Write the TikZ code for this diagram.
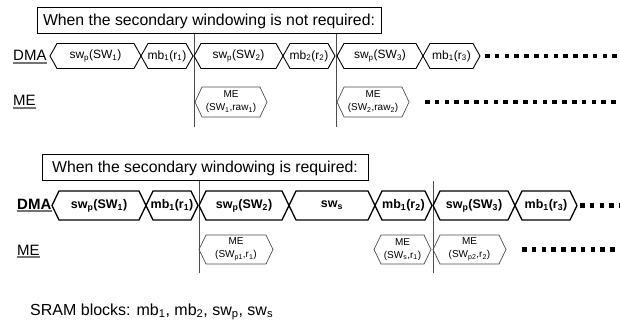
\documentclass[tikz,border=0pt]{standalone}
\usepackage{fontspec}
\setmainfont{Liberation Sans}
\newcommand\hexcell[7]{%
  \draw[#1] (#3,#5) -- ({#3+7},{#5-#6/2}) -- ({#4-7},{#5-#6/2}) -- (#4,#5) -- ({#4-7},{#5+#6/2}) -- ({#3+7},{#5+#6/2}) -- cycle;
  \node[hextext] (#2) at ({(#3+#4)/2},#5) {#7};}
\newcommand\sub[1]{\textsubscript{#1}}
\begin{document}
\begin{tikzpicture}[x=1pt,y=-1pt,
  every node/.style={inner sep=0pt},
  hextext/.style={align=center},
  dmahex/.style={draw=black, line width=0.9pt},
  dmahexb/.style={draw=black, line width=1.3pt},
  mehex/.style={draw=black!70, line width=0.7pt},
  vline/.style={draw=black!70, line width=1pt},
  titlebox/.style={draw=black, line width=1pt, font=\fontsize{15.8}{19}\selectfont},
  dots/.style={line width=4.5pt, dash pattern=on 4.5pt off 5.3pt},
  rowlabel/.style={anchor=base west, font=\fontsize{15}{18}\selectfont},
  ulin/.style={draw=black!55, line width=1.5pt},
  dmatext/.style={font=\fontsize{12}{14}\selectfont},
  dmatextb/.style={font=\bfseries\fontsize{12.5}{14}\selectfont},
  metext/.style={font=\fontsize{10}{13}\selectfont},
]
\useasboundingbox (0,0) rectangle (620,320);

% ---------- Section 1 ----------
\node[titlebox, minimum width=344pt, minimum height=26pt] (t1) at (209,21) {When the secondary windowing is not required:};

\node[rowlabel] (dma1) at (13,61) {DMA};
\draw[ulin] ([yshift=-2pt]dma1.base west) -- ([yshift=-2pt]dma1.base east);
\node[rowlabel] (me1) at (13,106) {ME};
\draw[ulin] ([yshift=-2pt]me1.base west) -- ([yshift=-2pt]me1.base east);

\coordinate (l1a) at (194,127);
\coordinate (l1b) at (336,127);
\draw[vline] (t1.south -| l1a) -- (l1a);
\draw[vline] (t1.south -| l1b) -- (l1b);

\begin{scope}[every node/.append style={dmatext}]
\hexcell{dmahex}{a1}{50}{141}{56}{25}{sw\sub{p}(SW\sub{1})}
\hexcell{dmahex}{a2}{141}{193}{56}{25}{mb\sub{1}(r\sub{1})}
\hexcell{dmahex}{a3}{194}{283}{56}{25}{sw\sub{p}(SW\sub{2})}
\hexcell{dmahex}{a4}{283}{335}{56}{25}{mb\sub{2}(r\sub{2})}
\hexcell{dmahex}{a5}{337}{423}{56}{25}{sw\sub{p}(SW\sub{3})}
\hexcell{dmahex}{a6}{423}{480}{56}{25}{mb\sub{1}(r\sub{3})}
\end{scope}
\coordinate (d1a) at (485,56);
\coordinate (d1b) at (620,56);
\draw[dots] (d1a) -- (d1b);

\begin{scope}[every node/.append style={metext}]
\hexcell{mehex}{m1}{195}{267}{102}{30}{ME\\(SW\sub{1},raw\sub{1})}
\hexcell{mehex}{m2}{337}{409}{102}{30}{ME\\(SW\sub{2},raw\sub{2})}
\end{scope}
\coordinate (d2a) at (425,102);
\coordinate (d2b) at (620,102);
\draw[dots] (d2a) -- (d2b);

% ---------- Section 2 ----------
\node[titlebox, minimum width=326pt, minimum height=26pt] (t2) at (205,168) {When the secondary windowing is required:};

\node[rowlabel, font=\bfseries\fontsize{15}{18}\selectfont] (dma2) at (17,209) {DMA};
\draw[ulin] ([yshift=-2pt]dma2.base west) -- ([yshift=-2pt]dma2.base east);
\node[rowlabel] (me2) at (17,255) {ME};
\draw[ulin] ([yshift=-2pt]me2.base west) -- ([yshift=-2pt]me2.base east);

\coordinate (l2a) at (199,273);
\coordinate (l2b) at (433,273);
\draw[vline] (t2.south -| l2a) -- (l2a);
\draw[vline] (t2.south -| l2b) -- (l2b);

\begin{scope}[every node/.append style={dmatextb}]
\hexcell{dmahexb}{b1}{52}{146}{205.5}{29}{sw\sub{p}(SW\sub{1})}
\hexcell{dmahexb}{b2}{146}{198}{205.5}{29}{mb\sub{1}(r\sub{1})}
\hexcell{dmahexb}{b3}{199}{289}{205.5}{29}{sw\sub{p}(SW\sub{2})}
\hexcell{dmahexb}{b4}{289}{375}{205.5}{29}{sw\sub{s}}
\hexcell{dmahexb}{b5}{375}{432}{205.5}{29}{mb\sub{1}(r\sub{2})}
\hexcell{dmahexb}{b6}{433}{515}{205.5}{29}{sw\sub{p}(SW\sub{3})}
\hexcell{dmahexb}{b7}{515}{577}{205.5}{29}{mb\sub{1}(r\sub{3})}
\end{scope}
\coordinate (d3a) at (580,205.5);
\coordinate (d3b) at (620,205.5);
\draw[dots] (d3a) -- (d3b);

\begin{scope}[every node/.append style={metext}]
\hexcell{mehex}{n1}{199}{273}{249.5}{29}{ME\\(SW\sub{p1},r\sub{1})}
\hexcell{mehex}{n2}{374}{431}{249.5}{29}{ME\\(SW\sub{s},r\sub{1})}
\hexcell{mehex}{n3}{433}{506}{249.5}{29}{ME\\(SW\sub{p2},r\sub{2})}
\end{scope}
\coordinate (d4a) at (522,249.5);
\coordinate (d4b) at (620,249.5);
\draw[dots] (d4a) -- (d4b);

% ---------- Footer ----------
\node[anchor=base west, font=\fontsize{16}{19}\selectfont] (sram) at (30,315) {SRAM blocks: mb\sub{1}, mb\sub{2}, sw\sub{p}, sw\sub{s}};
\end{tikzpicture}
\end{document}
